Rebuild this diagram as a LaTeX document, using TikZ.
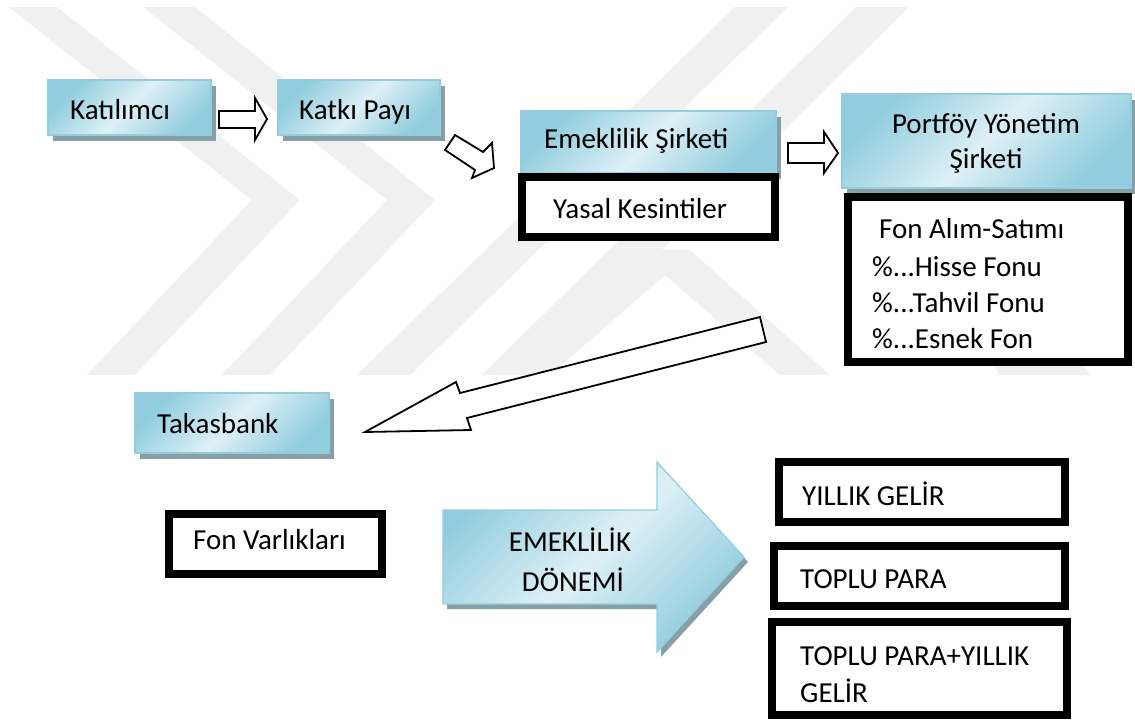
\documentclass[tikz,border=0pt]{standalone}
\usepackage{fontspec}
\setmainfont{Carlito}
\begin{document}
\begin{tikzpicture}[x=1pt,y=-1pt,
  wm/.style={fill=black!6,draw=none},
  bluebox/.style={draw={rgb,255:red,150;green,205;blue,220},line width=1.2pt,
     top color={rgb,255:red,145;green,205;blue,222},bottom color={rgb,255:red,145;green,205;blue,222},
     middle color={rgb,255:red,222;green,240;blue,246},shading angle=45},
  shadowbox/.style={fill={rgb,255:red,135;green,160;blue,168},draw=none},
  blackbox/.style={draw=black,line width=8pt,fill=white},
  hollow/.style={draw=black,line width=1.8pt,fill=white,line join=miter},
  txt/.style={inner sep=0pt,font=\fontsize{29}{36}\selectfont}
]
\useasboundingbox (0,0) rectangle (1135,720);
\fill[white] (0,0) rectangle (1135,720);
% watermark (approximate)
\fill[wm] (9,7)--(57,7)--(300,200)--(135,375)--(87,375)--(252,200)--cycle;
\fill[wm] (143,7)--(195,7)--(435,200)--(270,375)--(222,375)--(387,200)--cycle;
\fill[wm] (640,250)--(690,250)--(830,375)--(780,375)--(665,275)--(550,375)--(500,375)--cycle;
\fill[wm] (735,7)--(788,7)--(410,375)--(357,375)--cycle;
\fill[wm] (856,7)--(909,7)--(535,375)--(482,375)--cycle;
\fill[wm] (860,150)--(900,130)--(1090,375)--(1000,375)--cycle;

% blue boxes with shadows
\fill[shadowbox] (53,86) rectangle (216,141);
\path[bluebox] (48,80) rectangle (211,135);
\node[txt,anchor=base west] (kat) at (70,119.5) {Katılımcı};

\fill[shadowbox] (283,86) rectangle (445,141);
\path[bluebox] (278,80) rectangle (440,135);
\node[txt,anchor=base west] (pay) at (299,119.5) {Katkı Payı};

\fill[shadowbox] (526,117) rectangle (781,179);
\path[bluebox] (521,111) rectangle (776,173);
\node[txt,anchor=base west] (emk) at (544,148) {Emeklilik Şirketi};

\fill[shadowbox] (847,100) rectangle (1136,194);
\path[bluebox] (842,94) rectangle (1131,188);
\node[txt,anchor=base] (pys) at (986,133) {Portföy Yönetim};
\node[txt,anchor=base] (pys2) at (986,168) {Şirketi};

\fill[shadowbox] (140,399) rectangle (334,459);
\path[bluebox] (135,393) rectangle (329,453);
\node[txt,anchor=base west] (tak) at (157,433) {Takasbank};

% black boxes
\draw[blackbox] (522,177) rectangle (775,237);
\node[txt,anchor=base west] (yas) at (553,218) {Yasal Kesintiler};

\draw[blackbox] (848,197) rectangle (1128,362);
\node[txt,anchor=base west] (f1) at (879,238) {Fon Alım-Satımı};
\node[txt,anchor=base west] (f2) at (872,276) {\%...Hisse Fonu};
\node[txt,anchor=base west] (f3) at (872,312) {\%...Tahvil Fonu};
\node[txt,anchor=base west] (f4) at (872,348) {\%...Esnek Fon};

\draw[blackbox] (169,514) rectangle (382,574);
\node[txt,anchor=base west] (fv) at (193,549) {Fon Varlıkları};

\draw[blackbox] (779,462) rectangle (1065,522);
\node[txt,anchor=base west] (yg) at (802,505) {YILLIK GELİR};
\draw[blackbox] (774,546) rectangle (1065,606);
\node[txt,anchor=base west] (tp) at (800,588) {TOPLU PARA};
\draw[blackbox] (772,622) rectangle (1067,715);
\node[txt,anchor=base west] (tpy) at (800,665) {TOPLU PARA+YILLIK};
\node[txt,anchor=base west] (tpy2) at (800,702) {GELİR};

% hollow arrows
\draw[hollow] (219,111)--(255,111)--(255,98)--(267,119)--(255,140)--(255,128)--(219,128)--cycle;
\draw[hollow] (455,135)--(483,152)--(492,143)--(494,168)--(472,178)--(475,170)--(445,150)--cycle;
\draw[hollow] (788,143)--(824,143)--(824,132)--(838,153)--(824,173)--(824,163)--(788,163)--cycle;
\draw[hollow] (760,317)--(460,393)--(456,382)--(365,432)--(471,430)--(467,418)--(766,342)--cycle;

% big block arrow
\fill[shadowbox] (447,515)--(661,515)--(661,467)--(748,562)--(661,657)--(661,609)--(447,609)--cycle;
\path[bluebox] (443,510)--(657,510)--(657,462)--(744,557)--(657,652)--(657,604)--(443,604)--cycle;
\node[txt,anchor=base] (ed1) at (570,551) {EMEKLİLİK};
\node[txt,anchor=base] (ed2) at (573,591) {DÖNEMİ};
\end{tikzpicture}
\end{document}
